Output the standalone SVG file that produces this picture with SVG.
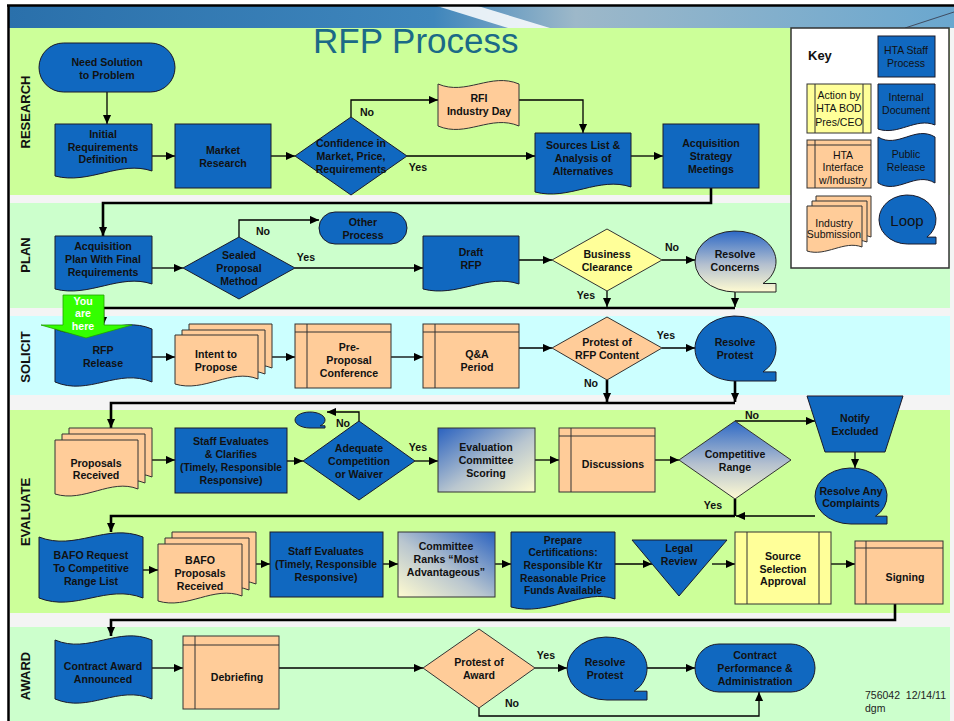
<svg xmlns="http://www.w3.org/2000/svg" width="954" height="721" viewBox="0 0 954 721">
<style>
.t{font-family:"Liberation Sans",Arial,sans-serif;font-weight:bold;font-size:10.6px;fill:#111;text-anchor:middle}
.k{font-family:"Liberation Sans",Arial,sans-serif;font-size:10.5px;fill:#111;text-anchor:middle}
.lane{font-family:"Liberation Sans",Arial,sans-serif;font-weight:bold;font-size:13px;fill:#111;text-anchor:middle}
.sb{fill:#1068c0;stroke:#1a1a2a;stroke-width:1}
.sp{fill:#ffcc99;stroke:#333;stroke-width:1}
.sy{fill:#ffff99;stroke:#333;stroke-width:1}
.ln{fill:none;stroke:#333;stroke-width:1}
.c{fill:none;stroke:#000;stroke-width:1.3}
.c2{fill:none;stroke:#000;stroke-width:2.6}
</style>
<defs>
<marker id="ah" viewBox="0 0 10 10" refX="10" refY="5" markerWidth="9" markerHeight="9" markerUnits="userSpaceOnUse" orient="auto"><path d="M0,0.5 L10,5 L0,9.5 z" fill="#000"/></marker>
<linearGradient id="band" x1="0" y1="0" x2="1" y2="0"><stop offset="0" stop-color="#2a70ab"/><stop offset="0.45" stop-color="#3f86bc"/><stop offset="0.6" stop-color="#9db8c9"/><stop offset="1" stop-color="#6aa7cf"/></linearGradient>
<linearGradient id="gv" x1="0" y1="0" x2="0" y2="1"><stop offset="0" stop-color="#2d69c6"/><stop offset="0.55" stop-color="#b4c0cf"/><stop offset="1" stop-color="#fffbd2"/></linearGradient>
<linearGradient id="gd" x1="0" y1="0" x2="1" y2="1"><stop offset="0" stop-color="#2a62c0"/><stop offset="0.55" stop-color="#b9c6cf"/><stop offset="1" stop-color="#fffbd0"/></linearGradient>
<linearGradient id="gr" x1="0" y1="1" x2="1" y2="0"><stop offset="0" stop-color="#fffbd0"/><stop offset="0.45" stop-color="#b9c6cf"/><stop offset="1" stop-color="#2a62c0"/></linearGradient>
</defs>

<!-- background and lanes -->
<rect x="8" y="6" width="946" height="715" fill="#f4f4f4"/>
<rect x="8" y="6" width="946" height="22" fill="url(#band)"/>
<polygon points="437,6 478,6 550,28 508,28" fill="#ffffff" opacity="0.85"/>
<line x1="905" y1="28" x2="954" y2="12" stroke="#334" stroke-width="0.8"/>
<rect x="10" y="28" width="940" height="167" fill="#ccff99"/>
<rect x="10" y="203" width="940" height="105" fill="#ccffcc"/>
<rect x="10" y="316" width="940" height="79" fill="#ccffff"/>
<rect x="10" y="410" width="940" height="203" fill="#ccff99"/>
<rect x="10" y="627" width="940" height="94" fill="#ccffcc"/>
<line x1="7" y1="5.5" x2="954" y2="5.5" stroke="#000" stroke-width="2.5"/>
<line x1="8.5" y1="5" x2="8.5" y2="721" stroke="#000" stroke-width="2.5"/>

<text x="313" y="53" font-family="Liberation Sans, Arial, sans-serif" font-size="35" fill="#1b6a87">RFP Process</text>

<g id="lanes">
<text class="lane" transform="translate(30,112) rotate(-90)">RESEARCH</text>
<text class="lane" transform="translate(30,255) rotate(-90)">PLAN</text>
<text class="lane" transform="translate(30,357) rotate(-90)">SOLICIT</text>
<text class="lane" transform="translate(30,512) rotate(-90)">EVALUATE</text>
<text class="lane" transform="translate(30,676) rotate(-90)">AWARD</text>
</g>

<!-- key -->
<g id="key">
<rect x="791" y="28" width="158" height="240" fill="#fff" stroke="#333" stroke-width="1.5"/>
<text x="808" y="60" font-family="Liberation Sans, Arial, sans-serif" font-weight="bold" font-size="13" fill="#111">Key</text>
<rect class="sb" x="878" y="36" width="57" height="41"/>
<text class="k" x="906" y="54">HTA Staff</text><text class="k" x="906" y="67">Process</text>
<rect class="sy" x="807" y="84" width="64" height="49"/>
<line class="ln" x1="815" y1="84" x2="815" y2="133"/><line class="ln" x1="863" y1="84" x2="863" y2="133"/>
<text class="k" x="839" y="99">Action by</text><text class="k" x="839" y="112">HTA BOD</text><text class="k" x="839" y="126">Pres/CEO</text>
<path class="sb" d="M878,84 H935 V125 C916,117 898,136 878,129 Z"/>
<text class="k" x="906" y="101">Internal</text><text class="k" x="906" y="114">Document</text>
<rect class="sp" x="807" y="140" width="64" height="48"/>
<line class="ln" x1="807" y1="145" x2="871" y2="145"/><line class="ln" x1="815" y1="140" x2="815" y2="188"/>
<text class="k" x="843" y="159">HTA</text><text class="k" x="843" y="171">Interface</text><text class="k" x="843" y="184">w/Industry</text>
<path class="sb" d="M878,137 C898,149 915,125 935,137 V183 C915,171 898,195 878,183 Z"/>
<text class="k" x="906" y="158">Public</text><text class="k" x="906" y="171">Release</text>
<path class="sp" d="M816,196 H871 V237 C853,230 835,247 816,241 Z"/>
<path class="sp" d="M812,201 H867 V242 C849,235 831,252 812,246 Z"/>
<path class="sp" d="M807,206 H862 V247 C844,240 826,257 807,251 Z"/>
<text class="k" x="834" y="227">Industry</text><text class="k" x="834" y="238">Submission</text>
<path class="sb" d="M907.5,244 A28.5,24.5 0 1 1 930.8,233.6 L926.9,237.1 L936,237.1 L936,244 Z"/>
<text class="k" x="907" y="226" style="font-size:15px">Loop</text>
</g>

<!-- connectors -->
<g id="connectors">
<path class="c" d="M107,92 V124" marker-end="url(#ah)"/>
<path class="c" d="M152,156 H175" marker-end="url(#ah)"/>
<path class="c" d="M271,156 H295" marker-end="url(#ah)"/>
<path class="c" d="M351,117 V100 H438" marker-end="url(#ah)"/>
<path class="c" d="M519,100 H583 V133" marker-end="url(#ah)"/>
<path class="c" d="M407,156 H535" marker-end="url(#ah)"/>
<path class="c" d="M631,156 H663" marker-end="url(#ah)"/>
<path class="c2" d="M711,188 V203 H103 V236" marker-end="url(#ah)"/>
<path class="c" d="M152,268 H183" marker-end="url(#ah)"/>
<path class="c" d="M239,237 V220 H319" marker-end="url(#ah)"/>
<path class="c" d="M295,268 H423" marker-end="url(#ah)"/>
<path class="c" d="M519,260 H552" marker-end="url(#ah)"/>
<path class="c" d="M662,260 H695" marker-end="url(#ah)"/>
<path class="c" d="M607,291 V307" marker-end="url(#ah)"/>
<path class="c" d="M735,292 V307" marker-end="url(#ah)" stroke-width="2"/>
<path class="c2" d="M735,308 H103 V326" marker-end="url(#ah)"/>
<path class="c" d="M152,357 H175" marker-end="url(#ah)"/>
<path class="c" d="M272,357 H295" marker-end="url(#ah)"/>
<path class="c" d="M391,357 H423" marker-end="url(#ah)"/>
<path class="c" d="M519,348 H552" marker-end="url(#ah)"/>
<path class="c" d="M662,348 H695" marker-end="url(#ah)"/>
<path class="c2" d="M607,380 V402" marker-end="url(#ah)"/>
<path class="c2" d="M735,381 V402" marker-end="url(#ah)"/>
<path class="c2" d="M735,403 H111 V428" marker-end="url(#ah)"/>
<path class="c" d="M152,460 H175" marker-end="url(#ah)"/>
<path class="c" d="M287,461 H303" marker-end="url(#ah)"/>
<path class="c" d="M359,421 V412 H327" marker-end="url(#ah)"/>
<path class="c" d="M415,461 H438" marker-end="url(#ah)"/>
<path class="c" d="M535,460 H559" marker-end="url(#ah)"/>
<path class="c" d="M655,460 H679" marker-end="url(#ah)"/>
<path class="c" d="M735,421 H815" marker-end="url(#ah)"/>
<path class="c" d="M855,452 V468" marker-end="url(#ah)"/>
<path class="c" d="M815,516 H736" marker-end="url(#ah)"/>
<path class="c2" d="M735,499 V516"/>
<path class="c2" d="M735,516 H111 V532" marker-end="url(#ah)"/>
<path class="c" d="M143,570 H158" marker-end="url(#ah)"/>
<path class="c" d="M256,564 H270" marker-end="url(#ah)"/>
<path class="c" d="M383,564 H398" marker-end="url(#ah)"/>
<path class="c" d="M495,564 H511" marker-end="url(#ah)"/>
<path class="c" d="M615,564 H652" marker-end="url(#ah)"/>
<path class="c" d="M712,564 H735" marker-end="url(#ah)"/>
<path class="c" d="M831,564 H855" marker-end="url(#ah)"/>
<path class="c2" d="M895,604 V620 H111 V636" marker-end="url(#ah)"/>
<path class="c" d="M152,668 H183" marker-end="url(#ah)"/>
<path class="c" d="M279,668 H423" marker-end="url(#ah)"/>
<path class="c" d="M535,668 H567" marker-end="url(#ah)"/>
<path class="c" d="M647,668 H695" marker-end="url(#ah)"/>
<path class="c" d="M479,708 V716 H759 V692" marker-end="url(#ah)" stroke-width="2"/>
<text class="t" x="367" y="116">No</text>
<text class="t" x="418" y="171">Yes</text>
<text class="t" x="263" y="235">No</text>
<text class="t" x="306" y="261">Yes</text>
<text class="t" x="672" y="251">No</text>
<text class="t" x="586" y="299">Yes</text>
<text class="t" x="666" y="339">Yes</text>
<text class="t" x="591" y="387">No</text>
<text class="t" x="343" y="427">No</text>
<text class="t" x="418" y="451">Yes</text>
<text class="t" x="752" y="419">No</text>
<text class="t" x="713" y="509">Yes</text>
<text class="t" x="546" y="659">Yes</text>
<text class="t" x="512" y="707">No</text>
</g>

<!-- RESEARCH -->
<g id="need-solution"><rect class="sb" x="39" y="43" width="136" height="49" rx="24.5"/>
<text class="t" x="107" y="66">Need Solution</text><text class="t" x="107" y="79">to Problem</text></g>
<g id="initial-req"><path class="sb" d="M55,124 H152 V171 C120,160 89,185 55,176 Z"/>
<text class="t" x="103" y="138">Initial</text><text class="t" x="103" y="151">Requirements</text><text class="t" x="103" y="163">Definition</text></g>
<g id="market-research"><rect class="sb" x="175" y="124" width="96" height="64"/>
<text class="t" x="223" y="154">Market</text><text class="t" x="223" y="167">Research</text></g>
<g id="confidence"><polygon class="sb" points="295,156 351,117 407,156 351,195"/>
<text class="t" x="351" y="147">Confidence in</text><text class="t" x="351" y="160">Market, Price,</text><text class="t" x="351" y="173">Requirements</text></g>
<g id="rfi"><path class="sp" d="M438,84 C466.4,96 490.7,72 519,84 V126 C490.7,114 466.4,138 438,126 Z"/>
<text class="t" x="479" y="102">RFI</text><text class="t" x="479" y="115">Industry Day</text></g>
<g id="sources"><path class="sb" d="M535,133 H631 V187 C599,176 569,201 535,192 Z"/>
<text class="t" x="583" y="149">Sources List &amp;</text><text class="t" x="583" y="162">Analysis of</text><text class="t" x="583" y="175">Alternatives</text></g>
<g id="acq-strategy"><rect class="sb" x="663" y="124" width="96" height="64"/>
<text class="t" x="711" y="147">Acquisition</text><text class="t" x="711" y="160">Strategy</text><text class="t" x="711" y="173">Meetings</text></g>

<!-- PLAN -->
<g id="acq-plan"><path class="sb" d="M55,236 H152 V284 C120,273 89,298 55,289 Z"/>
<text class="t" x="103" y="250">Acquisition</text><text class="t" x="103" y="263">Plan With Final</text><text class="t" x="103" y="276">Requirements</text></g>
<g id="sealed"><polygon class="sb" points="183,268 239,237 295,268 239,299"/>
<text class="t" x="239" y="259">Sealed</text><text class="t" x="239" y="272">Proposal</text><text class="t" x="239" y="285">Method</text></g>
<g id="other-process"><rect class="sb" x="319" y="212" width="88" height="32" rx="16"/>
<text class="t" x="363" y="226">Other</text><text class="t" x="363" y="239">Process</text></g>
<g id="draft-rfp"><path class="sb" d="M423,236 H519 V284 C487,273 457,298 423,289 Z"/>
<text class="t" x="471" y="256">Draft</text><text class="t" x="471" y="269">RFP</text></g>
<g id="business-clearance"><polygon class="sy" points="552,260 607,229 662,260 607,291"/>
<text class="t" x="607" y="258">Business</text><text class="t" x="607" y="271">Clearance</text></g>
<g id="resolve-concerns"><path d="M735.5,292 A40.5,30.5 0 1 1 768.7,279 L763,283.5 L776,283.5 L776,292 Z" fill="url(#gv)" stroke="#222" stroke-width="1"/>
<text class="t" x="735" y="258">Resolve</text><text class="t" x="735" y="271">Concerns</text></g>

<!-- SOLICIT -->
<g id="rfp-release"><path class="sb" d="M55,329 C89,343.4 118,314.6 152,329 V382 C118,367.6 89,396.4 55,382 Z"/>
<text class="t" x="103" y="354">RFP</text><text class="t" x="103" y="367">Release</text></g>
<g id="intent"><path class="sp" d="M189,324 H272 V368 C245,357 218,382 189,373 Z"/>
<path class="sp" d="M182,330 H265 V374 C238,363 211,388 182,379 Z"/>
<path class="sp" d="M175,335 H258 V379 C231,368 204,393 175,384 Z"/>
<text class="t" x="216" y="358">Intent to</text><text class="t" x="216" y="371">Propose</text></g>
<g id="pre-proposal"><rect class="sp" x="295" y="324" width="96" height="64"/>
<line class="ln" x1="295" y1="332" x2="391" y2="332"/><line class="ln" x1="307" y1="324" x2="307" y2="388"/>
<text class="t" x="349" y="351">Pre-</text><text class="t" x="349" y="364">Proposal</text><text class="t" x="349" y="377">Conference</text></g>
<g id="qa-period"><rect class="sp" x="423" y="324" width="96" height="64"/>
<line class="ln" x1="423" y1="332" x2="519" y2="332"/><line class="ln" x1="435" y1="324" x2="435" y2="388"/>
<text class="t" x="477" y="358">Q&amp;A</text><text class="t" x="477" y="371">Period</text></g>
<g id="protest-rfp"><polygon class="sp" points="552,348 607,317 662,348 607,380"/>
<text class="t" x="607" y="346">Protest of</text><text class="t" x="607" y="359">RFP Content</text></g>
<g id="resolve-protest-1"><path class="sb" d="M735.5,381 A40.5,32.5 0 1 1 768.7,367.1 L763,371.9 L776,371.9 L776,381 Z"/>
<text class="t" x="735" y="346">Resolve</text><text class="t" x="735" y="359">Protest</text></g>
<g id="you-are-here"><polygon points="63,295 104,295 104,325 132,325 86,338 41,325 63,325" fill="#33ff00" stroke="#23a000" stroke-width="0.8"/>
<text class="t" x="83" y="305" style="fill:#fff">You</text><text class="t" x="83" y="317" style="fill:#fff">are</text><text class="t" x="83" y="330" style="fill:#fff">here</text></g>

<!-- EVALUATE -->
<g id="proposals-received"><path class="sp" d="M69,428 H152 V477 C125,466 98,491 69,482 Z"/>
<path class="sp" d="M62,434 H145 V483 C118,472 91,497 62,488 Z"/>
<path class="sp" d="M55,440 H138 V489 C111,478 84,503 55,494 Z"/>
<text class="t" x="96" y="467">Proposals</text><text class="t" x="96" y="479">Received</text></g>
<g id="staff-eval-1"><rect class="sb" x="175" y="428" width="112" height="65"/>
<text class="t" x="231" y="445">Staff Evaluates</text><text class="t" x="231" y="458">&amp; Clarifies</text><text class="t" x="231" y="471" style="font-size:10.3px">(Timely, Responsible</text><text class="t" x="231" y="484">Responsive)</text></g>
<g id="adequate"><polygon class="sb" points="303,461 359,421 415,461 359,500"/>
<text class="t" x="359" y="452">Adequate</text><text class="t" x="359" y="465">Competition</text><text class="t" x="359" y="478">or Waiver</text></g>
<g id="loop-small"><path class="sb" d="M310,428 A15,8 0 1 1 322.3,424.6 L320.2,425.8 L325,425.8 L325,428 Z"/></g>
<g id="eval-committee"><rect x="438" y="428" width="97" height="64" fill="url(#gd)" stroke="#333" stroke-width="1"/>
<text class="t" x="486" y="451">Evaluation</text><text class="t" x="486" y="464">Committee</text><text class="t" x="486" y="477">Scoring</text></g>
<g id="discussions"><rect class="sp" x="559" y="428" width="96" height="64"/>
<line class="ln" x1="559" y1="436" x2="655" y2="436"/><line class="ln" x1="571" y1="428" x2="571" y2="492"/>
<text class="t" x="613" y="468">Discussions</text></g>
<g id="competitive-range"><polygon points="679,460 735,421 791,460 735,499" fill="url(#gv)" stroke="#333" stroke-width="1"/>
<text class="t" x="735" y="458">Competitive</text><text class="t" x="735" y="471">Range</text></g>
<g id="notify-excluded"><polygon class="sb" points="807,396 903,396 885,452 825,452"/>
<text class="t" x="855" y="422">Notify</text><text class="t" x="855" y="435">Excluded</text></g>
<g id="resolve-complaints"><path class="sb" d="M851,524 A36,28 0 1 1 880.5,512.1 L875.5,516.2 L887,516.2 L887,524 Z"/>
<text class="t" x="851" y="495">Resolve Any</text><text class="t" x="851" y="507">Complaints</text></g>
<g id="bafo-request"><path class="sb" d="M39,537 C75.4,551.4 106.6,522.6 143,537 V598 C106.6,583.6 75.4,612.4 39,598 Z"/>
<text class="t" x="91" y="559">BAFO Request</text><text class="t" x="91" y="572">To Competitive</text><text class="t" x="91" y="585">Range List</text></g>
<g id="bafo-proposals"><path class="sp" d="M172,532 H256 V584 C228,573 201,598 172,589 Z"/>
<path class="sp" d="M165,538 H249 V590 C221,579 194,604 165,595 Z"/>
<path class="sp" d="M158,544 H242 V596 C214,585 187,610 158,601 Z"/>
<text class="t" x="200" y="564">BAFO</text><text class="t" x="200" y="577">Proposals</text><text class="t" x="200" y="590">Received</text></g>
<g id="staff-eval-2"><rect class="sb" x="270" y="532" width="113" height="65"/>
<text class="t" x="326" y="555">Staff Evaluates</text><text class="t" x="326" y="568" style="font-size:10.3px">(Timely, Responsible</text><text class="t" x="326" y="581">Responsive)</text></g>
<g id="committee-ranks"><rect x="398" y="532" width="97" height="65" fill="url(#gr)" stroke="#333" stroke-width="1"/>
<text class="t" x="446" y="550">Committee</text><text class="t" x="446" y="563">Ranks “Most</text><text class="t" x="446" y="576">Advantageous”</text></g>
<g id="prepare-cert"><path class="sb" d="M511,532 H615 V599 C585,588 547,617 511,607 Z"/>
<text class="t" x="563" y="544" style="font-size:10.3px">Prepare</text><text class="t" x="563" y="556" style="font-size:10.3px">Certifications:</text><text class="t" x="563" y="569" style="font-size:10.3px">Responsible Ktr</text><text class="t" x="563" y="582" style="font-size:10.3px">Reasonable Price</text><text class="t" x="563" y="594" style="font-size:10.3px">Funds Available</text></g>
<g id="legal-review"><polygon class="sb" points="632,540 727,540 679,596"/>
<text class="t" x="679" y="552">Legal</text><text class="t" x="679" y="565">Review</text></g>
<g id="source-selection"><rect class="sy" x="735" y="532" width="96" height="72"/>
<line class="ln" x1="747" y1="532" x2="747" y2="604"/><line class="ln" x1="819" y1="532" x2="819" y2="604"/>
<text class="t" x="783" y="560">Source</text><text class="t" x="783" y="573">Selection</text><text class="t" x="783" y="585">Approval</text></g>
<g id="signing"><rect class="sp" x="855" y="541" width="88" height="63"/>
<line class="ln" x1="855" y1="548" x2="943" y2="548"/><line class="ln" x1="866" y1="541" x2="866" y2="604"/>
<text class="t" x="905" y="581">Signing</text></g>

<!-- AWARD -->
<g id="contract-award"><path class="sb" d="M55,640 C89,654.4 118,625.6 152,640 V699 C118,684.6 89,713.4 55,699 Z"/>
<text class="t" x="103" y="670">Contract Award</text><text class="t" x="103" y="683">Announced</text></g>
<g id="debriefing"><rect class="sp" x="183" y="636" width="96" height="73"/>
<line class="ln" x1="183" y1="645" x2="279" y2="645"/><line class="ln" x1="195" y1="636" x2="195" y2="709"/>
<text class="t" x="237" y="681">Debriefing</text></g>
<g id="protest-award"><polygon class="sp" points="423,668 479,629 535,668 479,708"/>
<text class="t" x="479" y="666">Protest of</text><text class="t" x="479" y="679">Award</text></g>
<g id="resolve-protest-2"><path class="sb" d="M607,700 A40,31.5 0 1 1 639.8,686.6 L634.2,691.2 L647,691.2 L647,700 Z"/>
<text class="t" x="605" y="666">Resolve</text><text class="t" x="605" y="679">Protest</text></g>
<g id="contract-performance"><rect class="sb" x="695" y="644" width="120" height="48" rx="24"/>
<text class="t" x="755" y="659">Contract</text><text class="t" x="755" y="672">Performance &amp;</text><text class="t" x="755" y="685">Administration</text></g>

<text x="865" y="699" font-family="Liberation Sans, Arial, sans-serif" font-size="10.5" fill="#222" xml:space="preserve">756042  12/14/11</text>
<text x="865" y="712" font-family="Liberation Sans, Arial, sans-serif" font-size="10.5" fill="#222">dgm</text>
</svg>
